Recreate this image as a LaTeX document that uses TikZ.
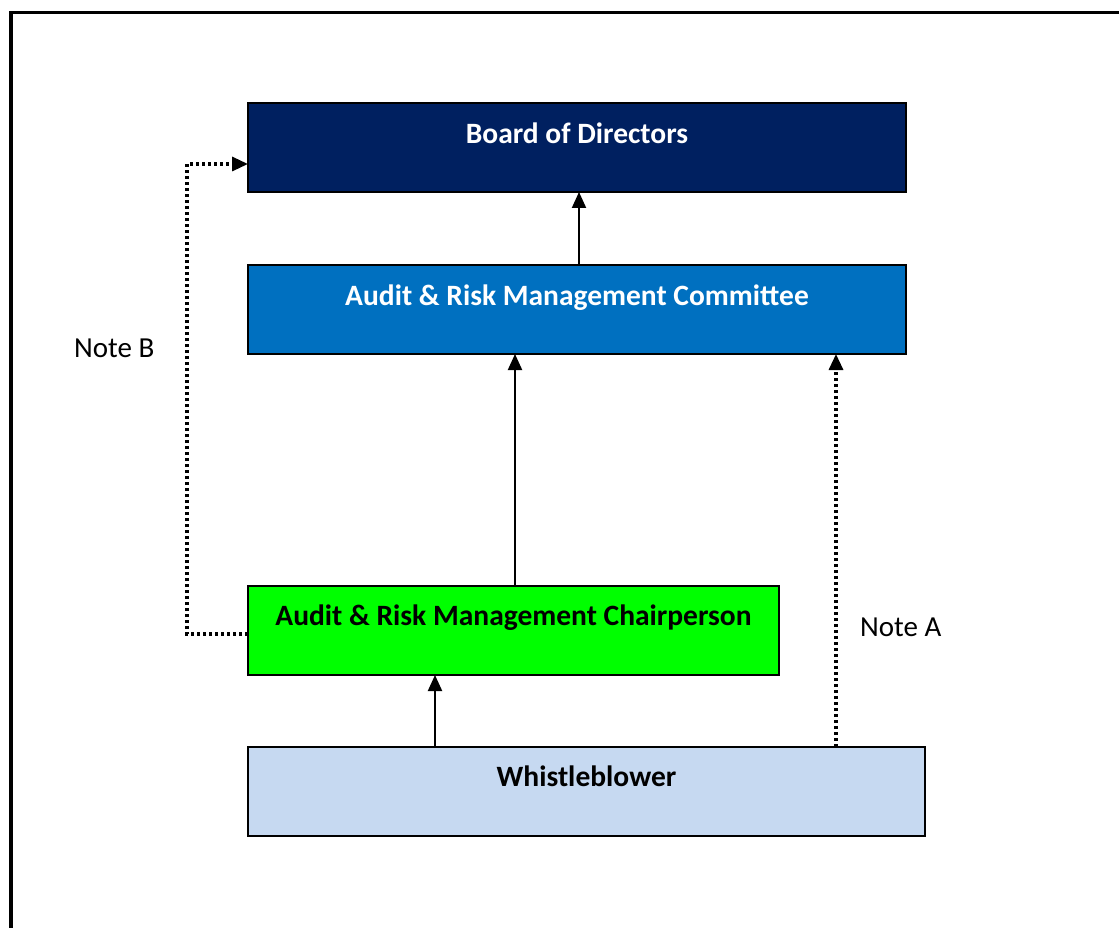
\documentclass[tikz,border=0pt]{standalone}
\usepackage{fontspec}
\setmainfont{Carlito}
\usetikzlibrary{arrows.meta}
\definecolor{navy}{HTML}{002060}
\definecolor{midblue}{HTML}{0070C0}
\definecolor{brightgreen}{HTML}{00FF00}
\definecolor{paleblue}{HTML}{C6D9F1}
\tikzset{
  box/.style={draw=black, line width=1.6pt, rectangle, anchor=north west, inner sep=0pt, outer sep=0pt, minimum height=89pt},
  boxtext/.style={anchor=base, inner sep=0pt, font=\fontsize{29.5}{34}\selectfont\bfseries},
  notetext/.style={anchor=base west, inner sep=0pt, font=\fontsize{29}{34}\selectfont},
  solidarrow/.style={line width=2pt, -{Triangle[length=16pt,width=14pt]}},
  dotarrow/.style={line width=3.2pt, dash pattern=on 3pt off 3pt, -{Triangle[length=16pt,width=14pt]}},
}
\begin{document}
\begin{tikzpicture}[x=1pt,y=-1pt]
\useasboundingbox (0,0) rectangle (1119,928);
\draw[line width=3.6pt] (10.7,940) -- (10.7,12.6) -- (1130,12.6);

\node[box, fill=navy, minimum width=658pt] (board) at (248,103) {};
\node[box, fill=midblue, minimum width=658pt] (committee) at (248,265) {};
\node[box, fill=brightgreen, minimum width=531pt] (chair) at (248,586) {};
\node[box, fill=paleblue, minimum width=677pt] (whistle) at (248,747) {};

\node[boxtext, text=white] (boardtxt) at (577,143.5) {Board of Directors};
\node[boxtext, text=white] (committeetxt) at (577,305.5) {Audit \& Risk Management Committee};
\node[boxtext, text=black] (chairtxt) at (513.5,625.5) {Audit \& Risk Management Chairperson};
\node[boxtext, text=black] (whistletxt) at (586.5,786.5) {Whistleblower};

\node[notetext] (noteB) at (74,357.5) {Note B};
\node[notetext] (noteA) at (860,636) {Note A};

\coordinate (xA) at (579,0);
\coordinate (xB) at (515,0);
\coordinate (xC) at (435,0);
\coordinate (xD) at (836,0);
\coordinate (yChair) at (0,634);
\coordinate (yBoard) at (0,164);
\coordinate (cornerLow) at (187,634);
\coordinate (cornerHigh) at (187,164);

\draw[solidarrow] (committee.north -| xA) -- (board.south -| xA);
\draw[solidarrow] (chair.north -| xB) -- (committee.south -| xB);
\draw[solidarrow] (whistle.north -| xC) -- (chair.south -| xC);
\draw[dotarrow] (whistle.north -| xD) -- (committee.south -| xD);
\draw[dotarrow] (chair.west |- yChair) -- (cornerLow) -- (cornerHigh) -- (board.west |- yBoard);
\end{tikzpicture}
\end{document}
